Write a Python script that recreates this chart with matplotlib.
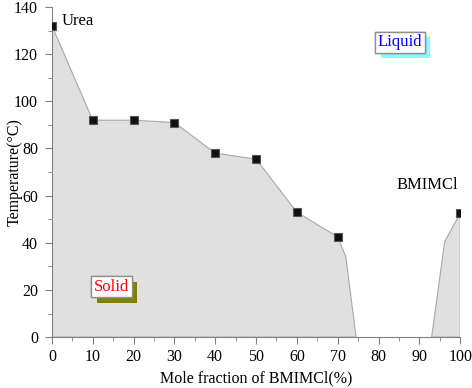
import matplotlib
matplotlib.use("Agg")
import matplotlib.pyplot as plt
import matplotlib.patheffects as pe
from matplotlib.ticker import MultipleLocator

plt.rcParams['font.family'] = ['Liberation Serif', 'DejaVu Serif']

# measured points
x_pts = [0, 10, 20, 30, 40, 50, 60, 70, 100]
t_pts = [132, 92, 92, 91, 78, 75.5, 53, 42.5, 52.5]

# solid region (left) boundary
left_x = [0, 0, 10, 20, 30, 40, 50, 60, 70, 72, 74.5]
left_t = [0, 132, 92, 92, 91, 78, 75.5, 53, 42.5, 34, 0]
# solid region (right) boundary
right_x = [93, 96.2, 100, 100]
right_t = [0, 40.5, 52.5, 0]

fig = plt.figure(figsize=(4.72, 3.88), dpi=100)
ax = fig.add_axes([0.110, 0.131, 0.865, 0.851])

ax.fill(left_x, left_t, facecolor='#e0e0e0', edgecolor='#a8a8a8', lw=0.8, zorder=1)
ax.fill(right_x, right_t, facecolor='#e0e0e0', edgecolor='#a8a8a8', lw=0.8, zorder=1)
ax.plot(x_pts, t_pts, ls='none', marker='s', ms=5.5, mfc='#111111', mec='#555555', mew=0.8, zorder=3)

ax.set_xlim(0, 100)
ax.set_ylim(0, 140)
ax.xaxis.set_major_locator(MultipleLocator(10))
ax.xaxis.set_minor_locator(MultipleLocator(5))
ax.yaxis.set_major_locator(MultipleLocator(20))
ax.yaxis.set_minor_locator(MultipleLocator(10))
for s in ['top', 'right']:
    ax.spines[s].set_visible(False)
for s in ['left', 'bottom']:
    ax.spines[s].set_color('#808080')
    ax.spines[s].set_linewidth(0.8)
ax.tick_params(which='both', direction='out', color='#808080', labelsize=11.5)
ax.tick_params(which='major', length=5)
ax.tick_params(which='minor', length=3)
ax.tick_params(axis='y', pad=5)

ax.set_xlabel('Mole fraction of BMIMCl(%)', fontsize=11.5)
ax.set_ylabel('Temperature(\u00b0C)', fontsize=11.5)
ax.yaxis.set_label_coords(-0.072, 0.5)

ax.text(2.5, 134, 'Urea', fontsize=12, ha='left', va='center')
ax.text(92, 64.5, 'BMIMCl', fontsize=12, ha='center', va='center')

t1 = ax.text(85.3, 125, 'Liquid', fontsize=12, color='blue', ha='center', va='center',
             bbox=dict(boxstyle='square,pad=0.15', facecolor='white', edgecolor='#909090', lw=1))
t1.get_bbox_patch().set_path_effects([pe.withSimplePatchShadow(offset=(4, -4), shadow_rgbFace='#80ffff', alpha=1), pe.Normal()])
t2 = ax.text(14.6, 21.4, 'Solid', fontsize=12, color='red', ha='center', va='center',
             bbox=dict(boxstyle='square,pad=0.15', facecolor='white', edgecolor='#909090', lw=1))
t2.get_bbox_patch().set_path_effects([pe.withSimplePatchShadow(offset=(4, -4), shadow_rgbFace='#808000', alpha=1), pe.Normal()])

fig.savefig('out.png', dpi=100)
